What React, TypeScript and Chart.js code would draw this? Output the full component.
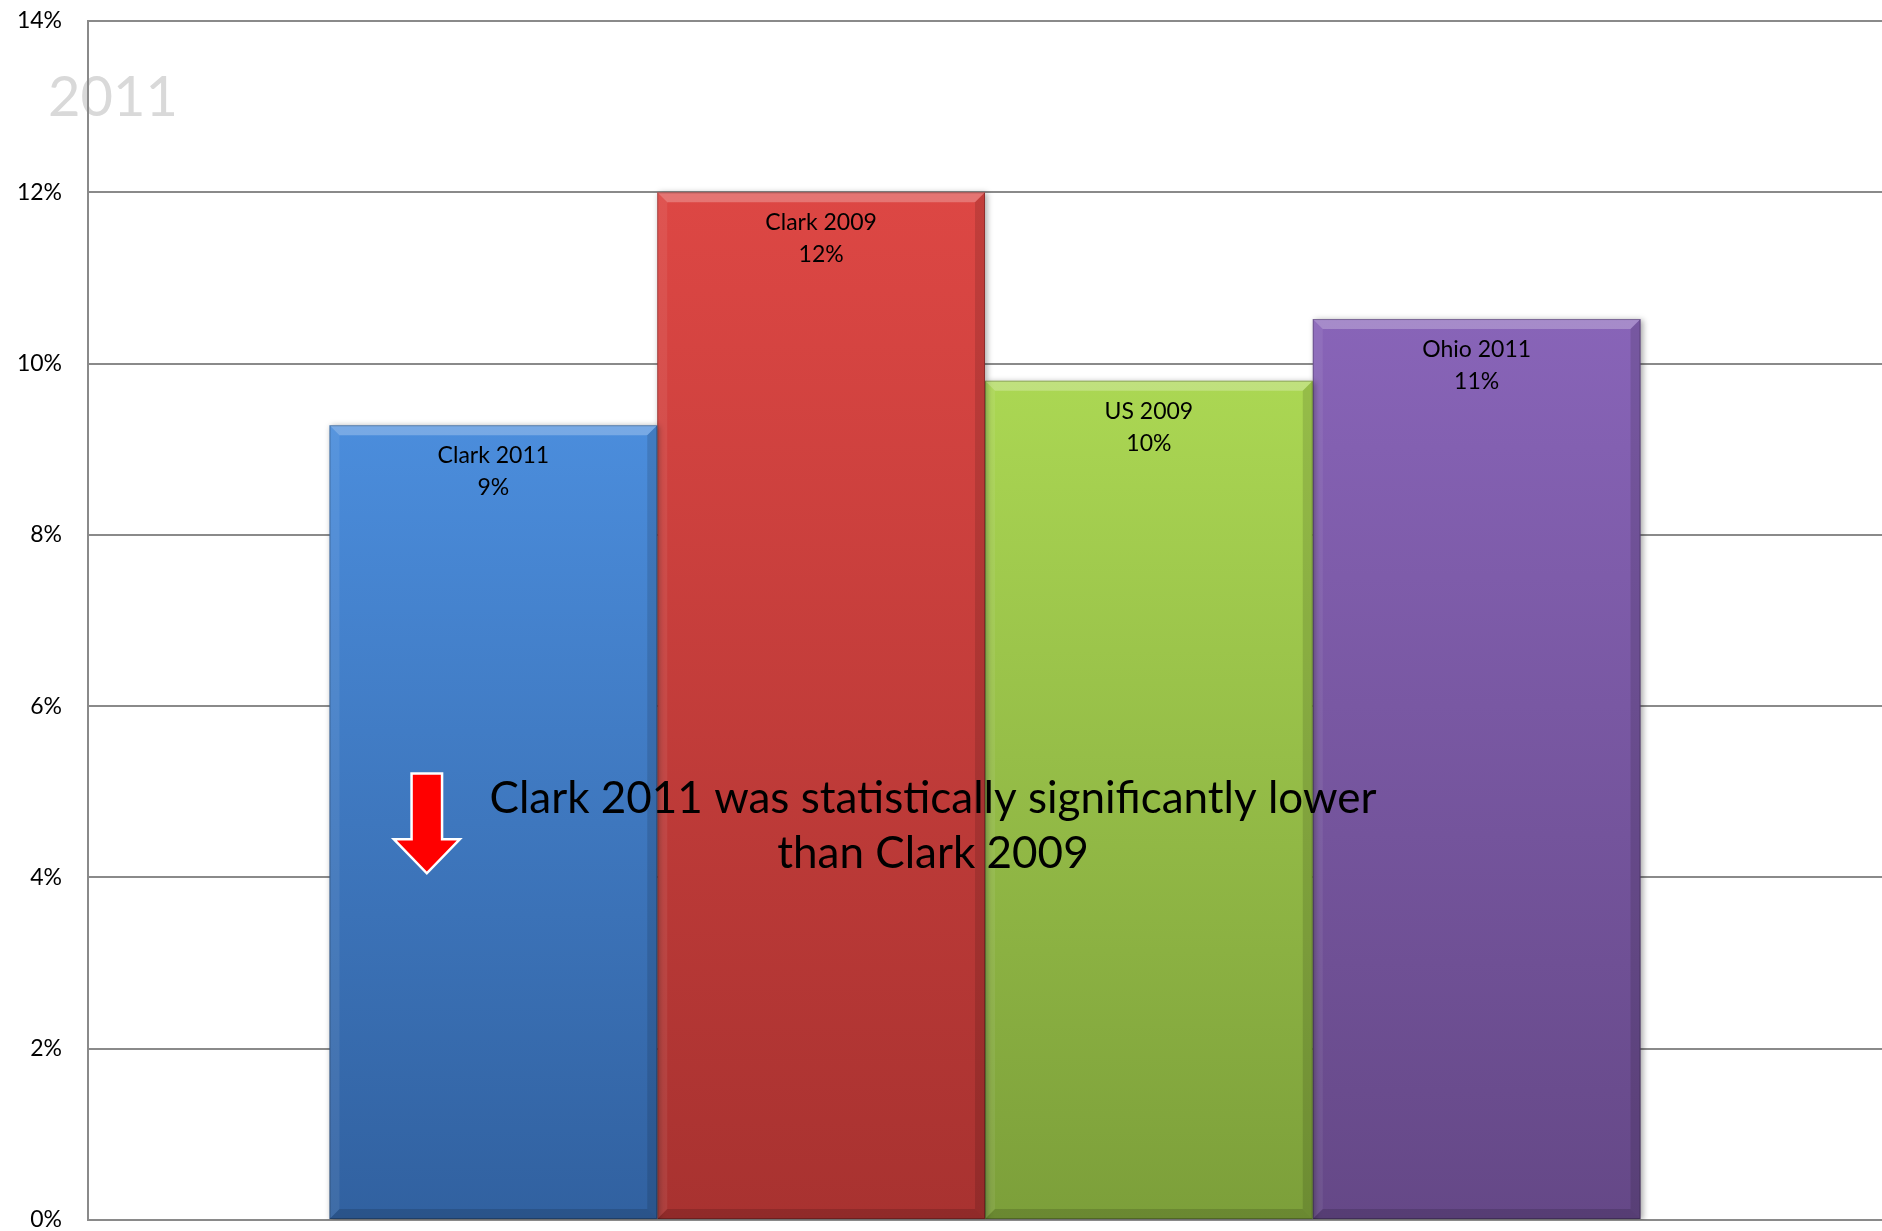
import React, { useEffect, useRef } from 'react';
import { Chart, registerables } from 'chart.js';

Chart.register(...registerables);

// ---- data ----
const categories = [''];
const seriesNames = ['Clark 2011', 'Clark 2009', 'US 2009', 'Ohio 2011'];
const seriesValues = [9.28, 12.0, 9.8, 10.52];
const yTickStep = 2;
const yMax = 14;
const chartTitle = '2011';
const noteLines = ['Clark 2011 was statistically significantly lower', 'than Clark 2009'];

// ---- styles ----
const colorsTop = ['#4b8ddc', '#dd4744', '#abd753', '#8864b8'];
const colorsBottom = ['#3161a0', '#a83230', '#7c9f3a', '#654887'];
const FAM = 'Lato, "Open Sans", "Noto Sans", sans-serif';

export default function App() {
  const ref = useRef<HTMLCanvasElement>(null);

  useEffect(() => {
    const canvas = ref.current;
    if (!canvas) return;

    const decor = {
      id: 'decor',
      beforeDraw(chart: any) {
        const ctx = chart.ctx;
        ctx.save();
        ctx.font = `56px ${FAM}`;
        ctx.fillStyle = '#d9d9d9';
        ctx.textAlign = 'left';
        ctx.textBaseline = 'alphabetic';
        ctx.fillText(chartTitle, 48, 116);
        ctx.restore();
      },
      beforeDatasetsDraw(chart: any) {
        const ctx = chart.ctx;
        ctx.save();
        ctx.shadowColor = 'rgba(0,0,0,0.35)';
        ctx.shadowBlur = 6;
        ctx.shadowOffsetX = 2;
        ctx.shadowOffsetY = 1;
      },
      afterDatasetsDraw(chart: any) {
        const ctx = chart.ctx;
        ctx.restore();
        const b = 10;
        chart.data.datasets.forEach((ds: any, i: number) => {
          const meta = chart.getDatasetMeta(i);
          meta.data.forEach((el: any, j: number) => {
            const p = el.getProps(['x', 'y', 'base', 'width'], true);
            const l = p.x - p.width / 2;
            const r = p.x + p.width / 2;
            const t = Math.min(p.y, p.base);
            const bt = Math.max(p.y, p.base);
            ctx.save();
            ctx.fillStyle = 'rgba(255,255,255,0.25)';
            ctx.beginPath();
            ctx.moveTo(l, t); ctx.lineTo(r, t); ctx.lineTo(r - b, t + b); ctx.lineTo(l + b, t + b); ctx.closePath();
            ctx.fill();
            ctx.fillStyle = 'rgba(255,255,255,0.07)';
            ctx.beginPath();
            ctx.moveTo(l, t); ctx.lineTo(l + b, t + b); ctx.lineTo(l + b, bt - b); ctx.lineTo(l, bt); ctx.closePath();
            ctx.fill();
            ctx.fillStyle = 'rgba(0,0,0,0.12)';
            ctx.beginPath();
            ctx.moveTo(r, t); ctx.lineTo(r - b, t + b); ctx.lineTo(r - b, bt - b); ctx.lineTo(r, bt); ctx.closePath();
            ctx.fill();
            ctx.fillStyle = 'rgba(0,0,0,0.14)';
            ctx.beginPath();
            ctx.moveTo(l, bt); ctx.lineTo(l + b, bt - b); ctx.lineTo(r - b, bt - b); ctx.lineTo(r, bt); ctx.closePath();
            ctx.fill();
            ctx.strokeStyle = 'rgba(0,0,0,0.25)';
            ctx.lineWidth = 1;
            ctx.strokeRect(l + 0.5, t + 0.5, p.width - 1, bt - t - 1);
            ctx.font = `23px ${FAM}`;
            ctx.fillStyle = '#000';
            ctx.textAlign = 'center';
            ctx.textBaseline = 'alphabetic';
            const v = ds.data[j];
            ctx.fillText(ds.label, p.x, t + 38);
            ctx.fillText(Math.round(v) + '%', p.x, t + 70);
            ctx.restore();
          });
        });
      },
      afterDraw(chart: any) {
        const ctx = chart.ctx;
        const ys = chart.scales.y;
        ctx.save();
        ctx.font = `44px ${FAM}`;
        ctx.fillStyle = '#000';
        ctx.textAlign = 'center';
        ctx.textBaseline = 'alphabetic';
        const cx = 88 + (1882 - 88) * 0.471;
        ctx.fillText(noteLines[0], cx, ys.getPixelForValue(4.75));
        ctx.fillText(noteLines[1], cx, ys.getPixelForValue(4.11));
        const el = chart.getDatasetMeta(0).data[0];
        const ax = el.x - el.width * 0.203;
        const top = ys.getPixelForValue(5.2);
        const headY = ys.getPixelForValue(4.43);
        const tipY = ys.getPixelForValue(4.07);
        const sw = 14;
        const hw = 30;
        ctx.beginPath();
        ctx.moveTo(ax - sw, top);
        ctx.lineTo(ax + sw, top);
        ctx.lineTo(ax + sw, headY);
        ctx.lineTo(ax + hw, headY);
        ctx.lineTo(ax, tipY);
        ctx.lineTo(ax - hw, headY);
        ctx.lineTo(ax - sw, headY);
        ctx.closePath();
        ctx.lineJoin = 'miter';
        ctx.strokeStyle = '#ffffff';
        ctx.lineWidth = 5;
        ctx.stroke();
        ctx.fillStyle = '#ff0000';
        ctx.fill();
        ctx.restore();
      },
    };

    const gradientFor = (i: number) => (c: any) => {
      const chart = c.chart;
      const ys = chart.scales && chart.scales.y;
      if (!ys || !chart.chartArea) return colorsTop[i];
      const v = seriesValues[i];
      const y0 = ys.getPixelForValue(v);
      const y1 = ys.getPixelForValue(0);
      if (!isFinite(y0) || !isFinite(y1) || y0 === y1) return colorsTop[i];
      const g = chart.ctx.createLinearGradient(0, y0, 0, y1);
      g.addColorStop(0, colorsTop[i]);
      g.addColorStop(1, colorsBottom[i]);
      return g;
    };

    const chart = new Chart(canvas, {
      type: 'bar',
      data: {
        labels: categories,
        datasets: seriesNames.map((name, i) => ({
          label: name,
          data: [seriesValues[i]],
          backgroundColor: gradientFor(i),
          borderWidth: 0,
          categoryPercentage: 0.7308,
          barPercentage: 1,
        })),
      },
      options: {
        animation: false,
        responsive: false,
        layout: { padding: { top: 21, bottom: 11, left: 0, right: 0 } },
        plugins: {
          legend: { display: false },
          tooltip: { enabled: false },
          title: { display: false },
        },
        scales: {
          x: {
            display: false,
            grid: { display: false },
          },
          y: {
            min: 0,
            max: yMax,
            ticks: {
              stepSize: yTickStep,
              callback: (v: any) => v + '%',
              font: { family: FAM, size: 23 },
              color: '#000',
              padding: 26,
            },
            grid: { color: '#8a8a8a', lineWidth: 2, drawTicks: false, tickLength: 0 },
            border: { display: true, color: '#8a8a8a', width: 2 },
            afterFit: (s: any) => { s.width = 88; s.paddingTop = 0; s.paddingBottom = 0; },
          },
        },
      },
      plugins: [decor],
    } as any);

    return () => chart.destroy();
  }, []);

  return (
    <div style={{ position: 'fixed', left: 0, top: 0, width: 1882, height: 1231, background: '#ffffff' }}>
      <canvas ref={ref} width={1882} height={1231} style={{ display: 'block' }} />
    </div>
  );
}
